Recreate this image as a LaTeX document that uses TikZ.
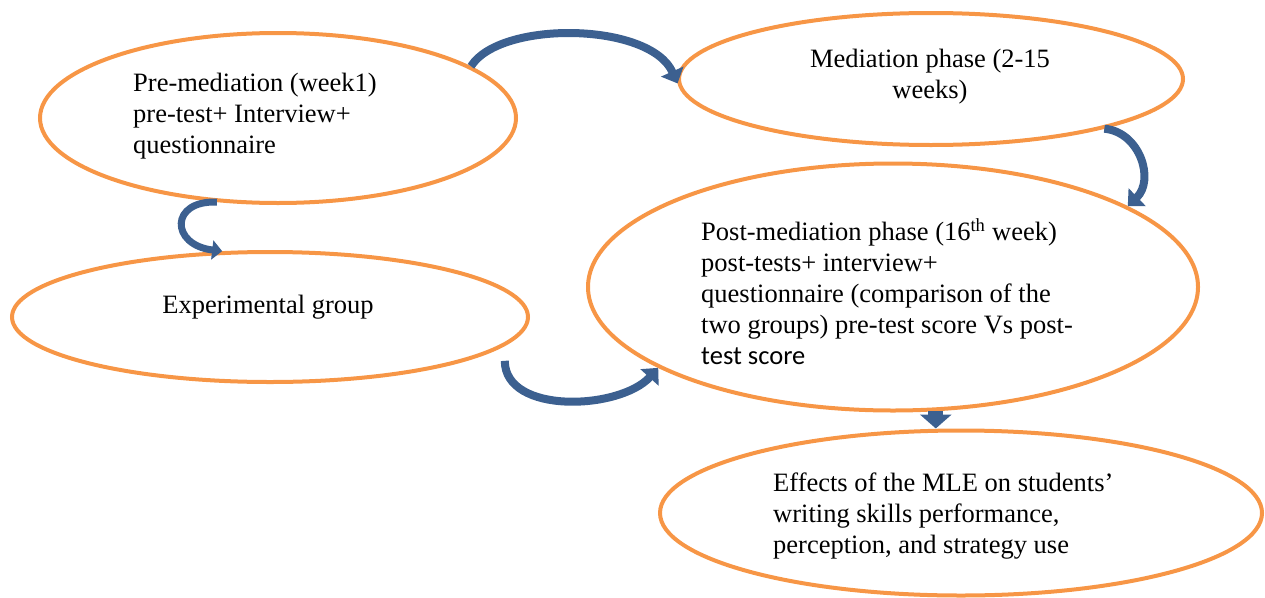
\documentclass[tikz,border=0pt]{standalone}
\usepackage{fontspec}
\setmainfont{Liberation Serif}
\newfontfamily\calibrifont{Carlito}
\usepackage{tikz}
\usetikzlibrary{shapes.geometric, arrows.meta, calc}
\definecolor{myorange}{RGB}{247,150,70}
\definecolor{myblue}{RGB}{60,96,144}
\tikzset{
  phase/.style={ellipse, draw=myorange, line width=4pt, inner sep=0pt},
  phasetext/.style={align=left, inner sep=0pt,
    font=\fontsize{26.5}{31}\selectfont},
  bendarrow/.style={draw=myblue, line width=8pt,
    -{Triangle[length=13pt, width=24pt]}},
  smallarrow/.style={draw=myblue, line width=7pt,
    -{Triangle[length=10pt, width=19pt]}},
  blockarrow/.style={draw=myblue, line width=15pt,
    -{Triangle[length=14pt, width=31pt]}}
}

\begin{document}
\begin{tikzpicture}[x=1pt, y=-1pt]
  \useasboundingbox (0,0) rectangle (1265,597);

  % Phases
  \node[phase, minimum width=476pt, minimum height=170pt] (pre) at (278,118) {};
  \node[phase, minimum width=504pt, minimum height=132pt] (med) at (931,79) {};
  \node[phase, minimum width=516pt, minimum height=130pt] (exp) at (270,317) {};
  \node[phase, minimum width=610pt, minimum height=247pt] (post) at (893,287) {};
  \node[phase, minimum width=602pt, minimum height=165pt] (eff) at (961,513) {};

  % Texts
  \node[phasetext, anchor=west] (pretext) at (133,116) {Pre-mediation (week1)\\pre-test+ Interview+\\questionnaire};
  \node[phasetext, align=center] (medtext) at (930,77) {Mediation phase (2-15\\weeks)};
  \node[phasetext] (exptext) at (268,307) {Experimental group};
  \node[phasetext, anchor=west] (posttext) at (701,292) {Post-mediation phase (16\textsuperscript{th} week)\\post-tests+ interview+\\questionnaire (comparison of the\\two groups) pre-test score Vs post-\\{\calibrifont test score}};
  \node[phasetext, anchor=west] (efftext) at (773,516) {Effects of the MLE on students'\\writing skills performance,\\perception, and strategy use};

  % Arrows
  \draw[bendarrow] (pre.15) .. controls (500,20) and (650,22) .. (med.181);
  \draw[smallarrow] (pre.234) .. controls (170,200) and (170,245) .. (exp.126);
  \draw[bendarrow, shorten <=15pt] (exp.-7) .. controls (505,415) and (620,410) .. (post.199);
  \draw[bendarrow] (med.-16) .. controls (1140,132) and (1155,180) .. (post.19);
  \draw[blockarrow] (post.-71) -- (post.-71 |- eff.north);
\end{tikzpicture}
\end{document}
